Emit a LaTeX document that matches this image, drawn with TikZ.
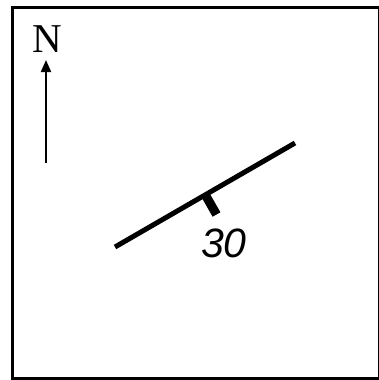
\documentclass[tikz,border=0pt]{standalone}
\usepackage{fontspec}
\setmainfont{Liberation Serif}
\newfontfamily\arialfont{Liberation Sans}
\usetikzlibrary{arrows.meta}
\begin{document}
\begin{tikzpicture}[x=1pt,y=-1pt,
  frame/.style={draw=black,line width=2.6pt},
  northarrow/.style={line width=2pt,-{Triangle[length=12pt,width=10pt]}},
  strikeline/.style={line width=5pt},
  dipline/.style={line width=9pt}]
\useasboundingbox (0,0) rectangle (379,380);
\node[frame,minimum width=367pt,minimum height=371pt,anchor=north west,inner sep=0pt] (box) at (11,6) {};
\coordinate (ntail) at (46,163);
\node[inner sep=0pt,font=\fontsize{41}{41}\selectfont] (north) at (47,39) {N};
\draw[northarrow] (ntail) -- (46,60);
\coordinate (sa) at (115,247);
\coordinate (sb) at (295,143);
\draw[strikeline] (sa) -- (sb);
\coordinate (tickbase) at (206,196);
\coordinate (tickend) at (216.5,214.5);
\draw[dipline] (tickbase) -- (tickend);
\node[inner sep=0pt,font=\arialfont\itshape\fontsize{41}{41}\selectfont] (dip) at (224,243) {30};
\end{tikzpicture}
\end{document}
